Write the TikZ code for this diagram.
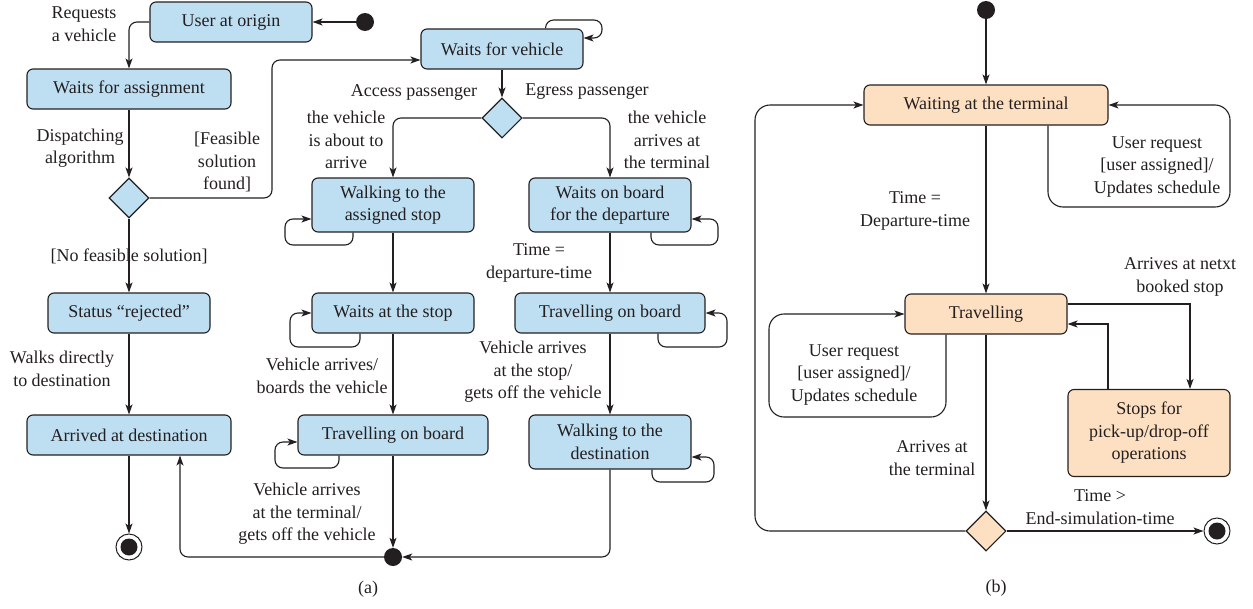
\documentclass[tikz,border=0pt]{standalone}
\usepackage{fontspec}
\setmainfont{Liberation Serif}
\usetikzlibrary{arrows.meta,shapes.geometric}
\definecolor{bluefill}{RGB}{190,222,242}
\definecolor{orangefill}{RGB}{253,224,194}
\definecolor{linec}{RGB}{35,31,32}
\tikzset{
  every node/.style={font=\fontsize{18}{22.5}\selectfont, text=linec},
  lbl/.style={align=center, inner sep=0pt},
  bbox/.style={draw=linec, line width=1.1pt, rounded corners=6pt, fill=bluefill, align=center, inner sep=0pt, minimum width=162, minimum height=40},
  obox/.style={bbox, fill=orangefill},
  dec/.style={diamond, draw=linec, line width=1.1pt, fill=bluefill, inner sep=0pt, minimum width=40, minimum height=40},
  dot/.style={circle, fill=linec, inner sep=0pt, minimum size=18},
  fin/.style={circle, draw=linec, line width=1pt, fill=white, inner sep=0pt, minimum size=26,
     path picture={\fill[linec] (path picture bounding box.center) circle (8.5pt);}},
  arr/.style={draw=linec, line width=1.1pt, rounded corners=8pt, -{Stealth[length=10pt,width=7pt,inset=2.5pt]}},
  bigarr/.style={arr, rounded corners=15pt},
  sqarr/.style={arr, sharp corners},
}
\begin{document}
\begin{tikzpicture}[x=1pt,y=-1pt]
\useasboundingbox (0,0) rectangle (1253,608);
% ---------------- panel (a) ----------------
\node[bbox] (uo) at (231,22) {User at origin};
\node[dot] (s1) at (365,22) {};
\node[bbox, minimum width=204] (wa) at (129,89) {Waits for assignment};
\node[dec] (d1) at (129,198) {};
\node[bbox] (sr) at (129,313) {Status “rejected”};
\node[bbox, minimum width=204] (ad) at (129,435) {Arrived at destination};
\node[fin] (f1) at (129,547) {};
\node[bbox] (wv) at (502,49) {Waits for vehicle};
\node[dec] (d2) at (502,118) {};
\node[bbox, minimum height=54] (wk) at (393,205) {Walking to the\\assigned stop};
\node[bbox, minimum height=54] (wb) at (610,205) {Waits on board\\for the departure};
\node[bbox] (ws) at (393,313) {Waits at the stop};
\node[bbox, minimum width=190] (tr) at (610,313) {Travelling on board};
\node[bbox, minimum width=190] (tl) at (393,435) {Travelling on board};
\node[bbox, minimum height=54] (wd) at (610,442) {Walking to the\\destination};
\node[dot] (md) at (393,557) {};
\coordinate (c1) at (272,60);

\draw[arr] (s1) -- (uo);
\draw[arr] (uo.west) -| (wa.north);
\draw[arr] (wa) -- (d1);
\draw[arr] (d1.east) -| (c1) -- ([yshift=-11pt]wv.west);
\draw[arr] (d1) -- (sr);
\draw[arr] (sr) -- (ad);
\draw[arr] (ad) -- (f1);
\draw[arr] ([xshift=-38pt]wv.north east) |- (602,20) |- ([yshift=11pt]wv.east);
\draw[arr] (wv) -- (d2);
\draw[arr] (d2.west) -| (wk.north);
\draw[arr] (d2.east) -| (wb.north);
\draw[arr] ([xshift=-40pt]wk.south) |- (285,245) |- ([yshift=-14pt]wk.west);
\draw[arr] ([xshift=41pt]wb.south) |- (718,245) |- ([yshift=-14pt]wb.east);
\draw[arr] (wk) -- (ws);
\draw[arr] (wb) -- (tr);
\draw[arr] ([xshift=-33pt]ws.south) |- (290,347) |- (ws.west);
\draw[arr] ([xshift=48pt]tr.south) |- (727,347) |- (tr.east);
\draw[arr] (ws) -- (tl);
\draw[arr] (tr) -- (wd);
\draw[arr] ([xshift=-54pt]tl.south) |- (275,468) |- ([yshift=-7pt]tl.west);
\draw[arr] ([xshift=42pt]wd.south) |- (714,482) |- ([yshift=-15pt]wd.east);
\draw[arr] (tl) -- (md);
\draw[arr] (wd.south) |- (md);
\draw[arr] (md) -| ([xshift=51pt]ad.south);

\node[lbl] (l1) at (84,24) {Requests\\a vehicle};
\node[lbl] (l2) at (80,148) {Dispatching\\algorithm};
\node[lbl] (l3) at (227,162) {[Feasible\\solution\\found]};
\node[lbl] (l4) at (129,256) {[No feasible solution]};
\node[lbl] (l5) at (62,369) {Walks directly\\to destination};
\node[lbl] (l6) at (414,92) {Access passenger};
\node[lbl] (l7) at (587,92) {Egress passenger};
\node[lbl] (l8) at (346,140) {the vehicle\\is about to\\arrive};
\node[lbl] (l9) at (667,140) {the vehicle\\arrives at\\the terminal};
\node[lbl] (l10) at (539,263) {Time =\\departure-time};
\node[lbl] (l11) at (322,376) {Vehicle arrives/\\boards the vehicle};
\node[lbl] (l12) at (533,372) {Vehicle arrives\\at the stop/\\gets off the vehicle};
\node[lbl] (l13) at (307,514) {Vehicle arrives\\at the terminal/\\gets off the vehicle};
\node[lbl] (la) at (368,589) {(a)};

% ---------------- panel (b) ----------------
\node[dot] (s3) at (986,10) {};
\node[obox, minimum width=244] (wt) at (986,105) {Waiting at the terminal};
\node[obox] (tv) at (986,314) {Travelling};
\node[obox, minimum height=87] (sp) at (1149,433) {Stops for\\pick-up/drop-off\\operations};
\node[dec, fill=orangefill] (d3) at (986,531) {};
\node[fin] (f2) at (1217,531) {};
\coordinate (c2) at (755,105);

\draw[arr] (s3) -- (wt);
\draw[arr] (wt) -- (tv);
\draw[bigarr] ([xshift=62pt]wt.south) |- (1230,207) |- (wt.east);
\draw[bigarr] ([xshift=-40pt]tv.south) |- (769,417) |- (tv.west);
\draw[sqarr] ([yshift=10pt]tv.east) -| ([xshift=41pt]sp.north);
\draw[sqarr] ([xshift=-41pt]sp.north) |- ([yshift=-10pt]tv.east);
\draw[arr] (tv) -- (d3);
\draw[bigarr] (d3.west) -| (c2) -- (wt.west);
\draw[arr] (d3) -- (f2);

\node[lbl] (m1) at (915,211) {Time =\\Departure-time};
\node[lbl] (m2) at (1157,167) {User request\\{[user assigned]/}\\Updates schedule};
\node[lbl] (m3) at (854,375) {User request\\{[user assigned]/}\\Updates schedule};
\node[lbl] (m4) at (1180,277) {Arrives at netxt\\booked stop};
\node[lbl] (m5) at (932,458) {Arrives at\\the terminal};
\node[lbl] (m6) at (1100,507) {Time >\\End-simulation-time};
\node[lbl] (lb) at (996,588) {(b)};
\end{tikzpicture}
\end{document}
